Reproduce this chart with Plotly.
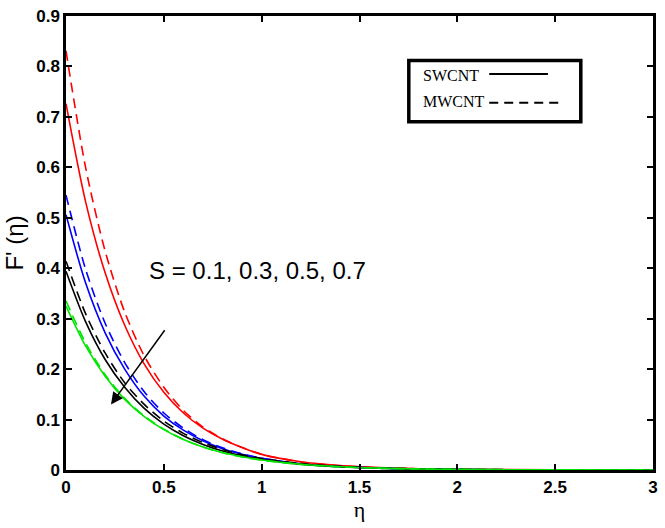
import plotly.graph_objects as go

eta = [0, 0.1, 0.2, 0.3, 0.4, 0.5, 0.6, 0.7, 0.8, 0.9, 1.0, 1.2, 1.4, 1.6, 1.8, 2.0, 2.5, 3.0]

swcnt_red   = [0.726, 0.532, 0.391, 0.287, 0.210, 0.154, 0.113, 0.083, 0.061, 0.0446, 0.031, 0.0165, 0.0090, 0.0048, 0.0026, 0.0014, 0.0003, 0.0]
mwcnt_red   = [0.831, 0.600, 0.434, 0.313, 0.226, 0.164, 0.118, 0.085, 0.062, 0.0446, 0.031, 0.0160, 0.0085, 0.0045, 0.0024, 0.0012, 0.0002, 0.0]
swcnt_blue  = [0.506, 0.371, 0.272, 0.200, 0.146, 0.107, 0.079, 0.058, 0.042, 0.031, 0.023, 0.0120, 0.0066, 0.0035, 0.0019, 0.0010, 0.0002, 0.0]
mwcnt_blue  = [0.545, 0.398, 0.291, 0.213, 0.155, 0.113, 0.083, 0.060, 0.044, 0.032, 0.0235, 0.0122, 0.0064, 0.0034, 0.0018, 0.0009, 0.0002, 0.0]
swcnt_black = [0.394, 0.294, 0.219, 0.164, 0.122, 0.091, 0.068, 0.0507, 0.0378, 0.0282, 0.021, 0.0117, 0.0065, 0.0036, 0.0020, 0.0011, 0.0003, 0.0]
mwcnt_black = [0.414, 0.310, 0.232, 0.173, 0.130, 0.097, 0.0727, 0.0544, 0.0407, 0.0304, 0.0228, 0.0127, 0.0071, 0.0040, 0.0022, 0.0012, 0.0003, 0.0]
swcnt_green = [0.325, 0.246, 0.186, 0.140, 0.106, 0.080, 0.0606, 0.0458, 0.0346, 0.0262, 0.0198, 0.0113, 0.0064, 0.0037, 0.0021, 0.0012, 0.0003, 0.0]
mwcnt_green = [0.335, 0.252, 0.189, 0.142, 0.107, 0.081, 0.0606, 0.0456, 0.0343, 0.0258, 0.0194, 0.0110, 0.0062, 0.0035, 0.0020, 0.0011, 0.0003, 0.0]

x_ticks = [0, 0.5, 1, 1.5, 2, 2.5, 3]
y_ticks = [0, 0.1, 0.2, 0.3, 0.4, 0.5, 0.6, 0.7, 0.8, 0.9]

series = [
    (swcnt_red, "#ff0000", "solid"), (mwcnt_red, "#ff0000", "10px,6px"),
    (swcnt_blue, "#0000ff", "solid"), (mwcnt_blue, "#0000ff", "10px,6px"),
    (swcnt_black, "#000000", "solid"), (mwcnt_black, "#000000", "10px,6px"),
    (swcnt_green, "#00e600", "solid"), (mwcnt_green, "#00e600", "10px,6px"),
]

fig = go.Figure()
for vals, col, dash in series:
    fig.add_trace(go.Scatter(x=eta, y=vals, mode="lines",
                             line=dict(color=col, width=1.6, dash=dash, shape="spline", smoothing=0.8),
                             showlegend=False, hoverinfo="skip"))

axis_common = dict(showline=True, linecolor="black", linewidth=2.5, mirror="ticks",
                   ticks="inside", ticklen=6, tickwidth=2, tickcolor="black",
                   showgrid=False, zeroline=False,
                   tickfont=dict(family="Liberation Sans, Arial", size=17, color="black", weight="bold"))

fig.update_xaxes(range=[0, 3], tickvals=x_ticks, ticktext=[str(v) for v in x_ticks],
                 title=dict(text="η", font=dict(family="Liberation Serif", size=22, color="black"), standoff=4),
                 **axis_common)
fig.update_yaxes(range=[0, 0.9], tickvals=y_ticks, ticktext=[str(v) for v in y_ticks],
                 title=dict(text="F' (η)", font=dict(family="Liberation Sans, Arial", size=24, color="black"), standoff=6),
                 **axis_common)

# annotation text and arrow
fig.add_annotation(x=0.416, y=0.395, xref="x", yref="y", text="S = 0.1, 0.3, 0.5, 0.7",
                   showarrow=False, xanchor="left", yanchor="middle",
                   font=dict(family="Liberation Sans, Arial", size=24, color="black"))
fig.add_annotation(x=0.23, y=0.13, ax=0.51, ay=0.28, xref="x", yref="y", axref="x", ayref="y",
                   text="", showarrow=True, arrowhead=2, arrowsize=1.6, arrowwidth=1.5, arrowcolor="black")

# legend box (drawn)
fig.add_shape(type="rect", xref="paper", yref="paper", x0=0.584, x1=0.877, y0=0.767, y1=0.902,
              line=dict(color="black", width=3.5), fillcolor="white", layer="above")
fig.add_annotation(x=0.605, y=0.870, xref="paper", yref="paper", text="SWCNT", showarrow=False,
                   xanchor="left", yanchor="middle", font=dict(family="Liberation Serif", size=16, color="black"))
fig.add_annotation(x=0.605, y=0.811, xref="paper", yref="paper", text="MWCNT", showarrow=False,
                   xanchor="left", yanchor="middle", font=dict(family="Liberation Serif", size=16, color="black"))
fig.add_shape(type="line", xref="paper", yref="paper", x0=0.721, x1=0.821, y0=0.872, y1=0.872,
              line=dict(color="black", width=2), layer="above")
fig.add_shape(type="line", xref="paper", yref="paper", x0=0.721, x1=0.840, y0=0.809, y1=0.809,
              line=dict(color="black", width=2, dash="9px,6px"), layer="above")

fig.update_layout(width=665, height=528, margin=dict(l=66, r=7, t=10, b=58),
                  plot_bgcolor="white", paper_bgcolor="white")

fig.write_html("out.html", config={"displayModeBar": False},
               post_script="document.body.style.margin='0';document.body.style.padding='0';")
